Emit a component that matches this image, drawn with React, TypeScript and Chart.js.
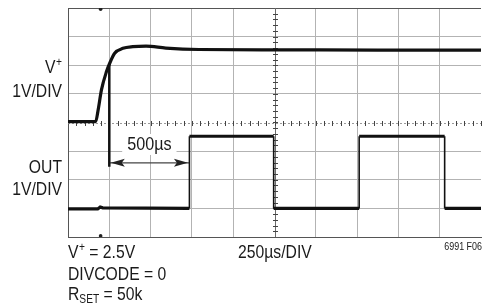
import React, { useEffect, useRef } from "react";
import { Chart, registerables } from "chart.js";

Chart.register(...registerables);

// Axis ranges in divisions (10 x 8 scope graticule)
const X_DIVS = 10;
const Y_DIVS = 8;

// V+ trace (divisions)
const vplusX = [0, 0.67, 0.73, 0.81, 0.93, 1.01, 1.13, 1.33, 1.57, 1.89, 2.37, 3.17, 5, 7.5, 10];
const vplusY = [4.03, 4.03, 4.44, 5.14, 5.77, 6.07, 6.42, 6.59, 6.65, 6.67, 6.6, 6.55, 6.54, 6.53, 6.53];

// OUT trace (divisions)
const outX = [0, 0.72, 0.78, 0.84, 2.94, 2.94, 4.98, 4.98, 7.05, 7.05, 9.12, 9.12, 10];
const outY = [0.98, 0.98, 1.05, 1.02, 1.0, 3.52, 3.52, 1.0, 1.0, 3.52, 3.52, 1.0, 1.0];

// 500us marker
const markerX = [1.0, 1.0];
const markerY = [6.07, 2.45];
const arrowX = [1.0, 2.94];
const arrowY = [2.59, 2.59];
const arrowLabel = "500µs";
const arrowLabelPos = [1.97, 3.04];

// trigger marks
const trigX = [0.79, 0.79];
const trigY = [7.96, 0.04];

const FONT = '"Liberation Sans", Arial, sans-serif';
const SX = 0.85; // horizontal condensing to mimic a narrow face

const pts = (xs: number[], ys: number[]) => xs.map((x, i) => ({ x, y: ys[i] }));

export default function App() {
  const ref = useRef<HTMLCanvasElement | null>(null);

  useEffect(() => {
    document.body.style.margin = "0";
    const canvas = ref.current!;

    const measure = (ctx: any, t: string, size: number) => {
      ctx.font = `${size}px ${FONT}`;
      return ctx.measureText(t).width * SX;
    };
    const draw = (ctx: any, t: string, x: number, y: number, size: number, align = "left") => {
      const w = measure(ctx, t, size);
      const x0 = align === "right" ? x - w : align === "center" ? x - w / 2 : x;
      ctx.save();
      ctx.translate(x0, y);
      ctx.scale(SX, 1);
      ctx.font = `${size}px ${FONT}`;
      ctx.textAlign = "left";
      ctx.textBaseline = "alphabetic";
      ctx.fillText(t, 0, 0);
      ctx.restore();
      return w;
    };

    const textPlugin = {
      id: "scopeText",
      beforeDatasetsDraw(chart: any) {
        const { ctx, scales } = chart;
        const xs = scales.x;
        const ys = scales.y;
        ctx.save();
        const cy = Math.round(ys.getPixelForValue(Y_DIVS / 2)) + 0.5;
        const cx = Math.round(xs.getPixelForValue(X_DIVS / 2)) + 0.5;
        ctx.strokeStyle = "#9a9a9a";
        ctx.lineWidth = 1;
        ctx.setLineDash([2, 2]);
        ctx.beginPath();
        ctx.moveTo(xs.left, cy);
        ctx.lineTo(xs.right, cy);
        ctx.stroke();
        ctx.setLineDash([]);
        ctx.strokeStyle = "#6a6a6a";
        ctx.beginPath();
        ctx.moveTo(cx, ys.top);
        ctx.lineTo(cx, ys.bottom);
        ctx.stroke();
        ctx.strokeStyle = "#444";
        ctx.beginPath();
        for (let v = 0.2; v < X_DIVS; v += 0.2) {
          const px = Math.round(xs.getPixelForValue(v)) + 0.5;
          ctx.moveTo(px, cy - 2.5);
          ctx.lineTo(px, cy + 2.5);
        }
        for (let v = 0.2; v < Y_DIVS; v += 0.2) {
          const py = Math.round(ys.getPixelForValue(v)) + 0.5;
          ctx.moveTo(cx - 2.5, py);
          ctx.lineTo(cx + 2.5, py);
        }
        ctx.stroke();
        ctx.restore();
      },
      afterDatasetsDraw(chart: any) {
        const { ctx, scales } = chart;
        const xs = scales.x;
        const ys = scales.y;
        ctx.save();
        const ay = ys.getPixelForValue(arrowY[0]);
        const ax0 = xs.getPixelForValue(arrowX[0]) + 1.5;
        const ax1 = xs.getPixelForValue(arrowX[1]) - 1.5;
        ctx.fillStyle = "#222";
        ctx.beginPath();
        ctx.moveTo(ax0, ay);
        ctx.lineTo(ax0 + 14, ay - 4);
        ctx.lineTo(ax0 + 11, ay);
        ctx.lineTo(ax0 + 14, ay + 4);
        ctx.closePath();
        ctx.fill();
        ctx.beginPath();
        ctx.moveTo(ax1, ay);
        ctx.lineTo(ax1 - 14, ay - 4);
        ctx.lineTo(ax1 - 11, ay);
        ctx.lineTo(ax1 - 14, ay + 4);
        ctx.closePath();
        ctx.fill();
        const lx = xs.getPixelForValue(arrowLabelPos[0]);
        const ly = ys.getPixelForValue(arrowLabelPos[1]);
        const w = measure(ctx, arrowLabel, 19);
        ctx.fillStyle = "#fff";
        ctx.fillRect(lx - w / 2 - 5, ly - 16, w + 10, 21);
        ctx.fillStyle = "#1a1a1a";
        draw(ctx, arrowLabel, lx, ly, 19, "center");
        ctx.restore();
      },
      afterDraw(chart: any) {
        const { ctx } = chart;
        ctx.save();
        ctx.fillStyle = "#1a1a1a";
        const B = 18.5;
        const S = 12;
        // left labels
        {
          const wv = measure(ctx, "V", B);
          const wp = measure(ctx, "+", S);
          const x0 = 62 - wv - wp - 0.5;
          draw(ctx, "V", x0, 73, B);
          draw(ctx, "+", x0 + wv + 0.5, 66, S);
        }
        draw(ctx, "1V/DIV", 62, 97, B, "right");
        draw(ctx, "OUT", 62, 173, B, "right");
        draw(ctx, "1V/DIV", 62, 195, B, "right");
        // bottom texts
        let x = 68;
        x += draw(ctx, "V", x, 258, B) + 0.5;
        x += draw(ctx, "+", x, 251, S);
        draw(ctx, " = 2.5V", x, 258, B);
        draw(ctx, "DIVCODE = 0", 68, 280, B);
        x = 68;
        x += draw(ctx, "R", x, 300, B);
        x += draw(ctx, "SET", x, 303, S);
        draw(ctx, " = 50k", x, 300, B);
        draw(ctx, "250µs/DIV", 238, 258, B);
        draw(ctx, "6991 F06", 482, 250, 10.5, "right");
        ctx.restore();
      },
    };

    const gridColor = (center: number, max: number) => (c: any) => {
      const v = c.tick && c.tick.value;
      if (v === center) return "rgba(0,0,0,0)";
      if (v === max) return max === X_DIVS ? "rgba(0,0,0,0)" : "#555";
      return "#b3b3b3";
    };

    const chart = new Chart(canvas, {
      type: "scatter",
      data: {
        datasets: [
          {
            data: pts(vplusX, vplusY),
            showLine: true,
            borderColor: "#111",
            borderWidth: 3.2,
            pointRadius: 0,
            cubicInterpolationMode: "monotone",
          } as any,
          {
            data: pts(outX, outY),
            showLine: true,
            borderColor: "#111",
            borderWidth: 3.2,
            pointRadius: 0,
            segment: {
              borderWidth: (c: any) => (c.p0.parsed.x === c.p1.parsed.x ? 1.6 : 3.2),
            },
          } as any,
          {
            data: pts(markerX, markerY),
            showLine: true,
            borderColor: "#111",
            borderWidth: 2.5,
            pointRadius: 0,
          } as any,
          {
            data: pts(arrowX, arrowY),
            showLine: true,
            borderColor: "#444",
            borderWidth: 1.3,
            pointRadius: 0,
          } as any,
          {
            data: pts(trigX, trigY),
            showLine: false,
            backgroundColor: "#222",
            borderWidth: 0,
            pointRadius: 1.8,
          } as any,
        ],
      },
      options: {
        animation: false,
        responsive: false,
        events: [],
        layout: { padding: { left: 68, top: 8, right: 0, bottom: 69 } },
        plugins: { legend: { display: false }, tooltip: { enabled: false }, title: { display: false } },
        scales: {
          x: {
            type: "linear",
            min: 0,
            max: X_DIVS,
            ticks: { display: false, stepSize: 1 },
            grid: { drawTicks: false, color: gridColor(X_DIVS / 2, X_DIVS) },
            border: { color: "#555", width: 1 },
          },
          y: {
            type: "linear",
            min: 0,
            max: Y_DIVS,
            ticks: { display: false, stepSize: 1 },
            grid: { drawTicks: false, color: gridColor(Y_DIVS / 2, Y_DIVS) },
            border: { color: "#555", width: 1 },
          },
        },
      } as any,
      plugins: [textPlugin],
    });
    return () => chart.destroy();
  }, []);

  return (
    <div style={{ position: "fixed", left: 0, top: 0, width: 485, height: 306, background: "#fff" }}>
      <canvas ref={ref} width={485} height={306} style={{ display: "block", width: 485, height: 306 }} />
    </div>
  );
}
